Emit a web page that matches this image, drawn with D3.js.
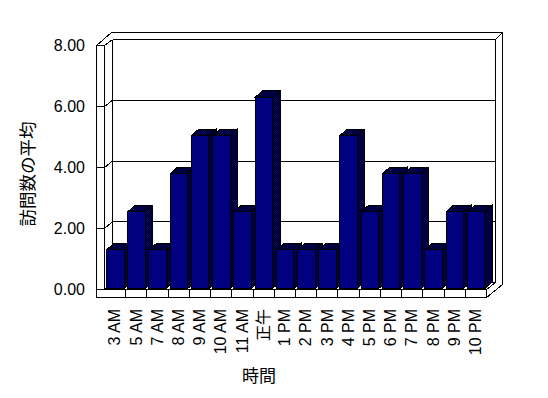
<!DOCTYPE html>
<html>
<head>
<meta charset="utf-8">
<script src="https://cdn.jsdelivr.net/npm/d3@7"></script>
<style>
  html, body { margin: 0; padding: 0; background: #fff; }
  svg { display: block; }
  .axis-label { font-family: "Liberation Sans", Arial, sans-serif; font-size: 16px; fill: #000; }
  .title { font-family: "Noto Sans CJK JP", sans-serif; fill: #000; }
</style>
</head>
<body>
<div id="chart"></div>
<script>
const categories = ["3 AM", "5 AM", "7 AM", "8 AM", "9 AM", "10 AM", "11 AM", "正午", "1 PM", "2 PM",
    "3 PM", "4 PM", "5 PM", "6 PM", "7 PM", "8 PM", "9 PM", "10 PM"];
const values = [1.25, 2.5, 1.25, 3.75, 5, 5, 2.5, 6.25, 1.25, 1.25, 1.25, 5, 2.5, 3.75, 3.75, 1.25, 2.5, 2.5];
const yTicks = [0, 2, 4, 6, 8];
const yTickLabels = ["0.00", "2.00", "4.00", "6.00", "8.00"];
const xTitle = "時間";
const yTitle = "訪問数の平均";

const WIDTH = 548;
const HEIGHT = 398;

// plot box (front plane / back wall), pixel-aligned
const WALL_OUTER_X = 96.5;
const FRONT_LEFT = 104.5;
const FRONT_RIGHT = 486.5;
const BACK_LEFT = 112.5;
const BACK_RIGHT = 495.5;
const BACK_OUTER_RIGHT = 502.5;
const BACK_OUTER_TOP = 32.5;
const FLOOR_BOTTOM = 297.5;

// bar depth
const BAR_DX = 7.5;
const BAR_DY = -6.5;
const BAR_WIDTH = 17.5;

const svg = d3.select("#chart")
    .append("svg")
    .attr("width", WIDTH)
    .attr("height", HEIGHT)
    .attr("shape-rendering", "crispEdges");

// dither pattern for bar tops and sides
const pat = svg.append("defs").append("pattern")
    .attr("id", "dither")
    .attr("width", 2).attr("height", 2)
    .attr("patternUnits", "userSpaceOnUse");
pat.append("rect").attr("width", 2).attr("height", 2).attr("fill", "#000");
pat.append("rect").attr("width", 1).attr("height", 1).attr("fill", "#000080");
pat.append("rect").attr("x", 1).attr("y", 1).attr("width", 1).attr("height", 1).attr("fill", "#000080");

const yFront = d3.scaleLinear().domain([0, 8]).range([289.5, 45.5]);
const yBack = d3.scaleLinear().domain([0, 8]).range([282.5, 39.5]);
const x = d3.scaleBand().domain(categories).range([FRONT_LEFT, FRONT_RIGHT]);

const line = (g, x1, y1, x2, y2) => g.append("line")
    .attr("x1", x1).attr("y1", y1).attr("x2", x2).attr("y2", y2)
    .attr("stroke", "#000").attr("stroke-width", 1);

const frame = svg.append("g");

// outer contour of walls and floor
frame.append("path")
    .attr("d", d3.line()([
        [WALL_OUTER_X, FLOOR_BOTTOM], [WALL_OUTER_X, yFront(8)], [BACK_LEFT - 1, BACK_OUTER_TOP],
        [BACK_OUTER_RIGHT, BACK_OUTER_TOP], [BACK_OUTER_RIGHT, yBack(0) + 2],
        [FRONT_RIGHT, FLOOR_BOTTOM], [WALL_OUTER_X, FLOOR_BOTTOM]
    ]))
    .attr("fill", "#fff").attr("stroke", "#000");

// inner edges
line(frame, FRONT_LEFT, yFront(8), FRONT_LEFT, yFront(0));
line(frame, FRONT_LEFT, yFront(0), FRONT_RIGHT, yFront(0));
line(frame, FRONT_RIGHT, yFront(0), FRONT_RIGHT, FLOOR_BOTTOM);
line(frame, FRONT_RIGHT, yFront(0), BACK_RIGHT, yBack(0));
line(frame, FRONT_LEFT, yFront(0), BACK_LEFT, yBack(0));
line(frame, BACK_LEFT, yBack(0), BACK_RIGHT, yBack(0));
line(frame, BACK_LEFT, yBack(8), BACK_LEFT, yBack(0));
line(frame, BACK_RIGHT, yBack(8), BACK_RIGHT, yBack(0));
line(frame, BACK_RIGHT, yBack(8), BACK_OUTER_RIGHT, BACK_OUTER_TOP);

// gridlines: tick on wall front, across wall, along back wall
yTicks.forEach(v => {
    line(frame, WALL_OUTER_X, yFront(v), FRONT_LEFT, yFront(v));
    line(frame, FRONT_LEFT, yFront(v), BACK_LEFT, yBack(v));
    if (v > 0) line(frame, BACK_LEFT, yBack(v), BACK_RIGHT, yBack(v));
});

// category ticks on floor front face
categories.forEach((c, i) => {
    if (i > 0) line(frame, x(c), yFront(0), x(c), FLOOR_BOTTOM);
});

// bars
const bars = svg.append("g");
categories.forEach((c, i) => {
    const x0 = x(c) + 2;
    const x1 = x0 + BAR_WIDTH;
    const y0 = yFront(values[i]) - 1.5;
    const yb = yFront(0) - 1;
    const g = bars.append("g").attr("stroke", "#000").attr("stroke-width", 1);
    g.append("path")
        .attr("d", d3.line()([[x1, y0], [x1 + BAR_DX, y0 + BAR_DY], [x1 + BAR_DX, yb + BAR_DY], [x1, yb]]) + "Z")
        .attr("fill", "url(#dither)");
    g.append("path")
        .attr("d", d3.line()([[x0, y0], [x0 + BAR_DX, y0 + BAR_DY], [x1 + BAR_DX, y0 + BAR_DY], [x1, y0]]) + "Z")
        .attr("fill", "url(#dither)");
    g.append("rect")
        .attr("x", x0).attr("y", y0)
        .attr("width", BAR_WIDTH).attr("height", yb - y0)
        .attr("fill", "#000080");
});

// y tick labels
svg.append("g").selectAll("text")
    .data(yTicks)
    .join("text")
    .attr("class", "axis-label")
    .attr("x", 85)
    .attr("y", d => yFront(d))
    .attr("dy", "0.36em")
    .attr("text-anchor", "end")
    .text((d, i) => yTickLabels[i]);

// category labels (rotated)
svg.append("g").selectAll("text")
    .data(categories)
    .join("text")
    .attr("class", d => /[^\x00-\x7f]/.test(d) ? "title" : "axis-label")
    .attr("font-size", "16px")
    .attr("transform", d => `translate(${x(d) + x.bandwidth() / 2 - 0.5},309) rotate(-90)`)
    .attr("dy", "0.36em")
    .attr("text-anchor", "end")
    .text(d => d);

// axis titles
svg.append("text")
    .attr("class", "title")
    .attr("font-size", "17px")
    .attr("x", 259)
    .attr("y", 376)
    .attr("dy", "0.36em")
    .attr("text-anchor", "middle")
    .text(xTitle);

svg.append("text")
    .attr("class", "title")
    .attr("font-size", "17.5px")
    .attr("transform", "translate(28,174) rotate(-90)")
    .attr("dy", "0.36em")
    .attr("text-anchor", "middle")
    .text(yTitle);
</script>
</body>
</html>
